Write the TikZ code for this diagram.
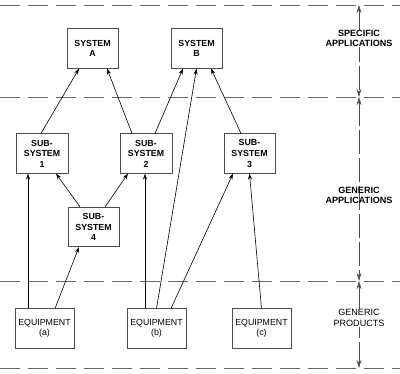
\documentclass[tikz,border=0pt]{standalone}
\usepackage{fontspec}
\setmainfont{Liberation Sans}
\usepackage{tikz}
\usetikzlibrary{positioning,arrows.meta,calc}

\begin{document}
\begin{tikzpicture}[
    x=0.75pt, y=-0.75pt,
    block/.style={draw=black!70, line width=0.6pt, align=center, inner sep=0pt,
      minimum width=#1*0.75pt, minimum height=29.5pt,
      font=\fontsize{6.6}{7.9}\selectfont\bfseries},
    block/.default=51,
    equip/.style={block=59, font=\fontsize{6.6}{7.9}\selectfont},
    conn/.style={line width=0.45pt, -{Stealth[length=4.5pt,width=3pt]}},
    level/.style={draw=black!60, line width=0.6pt, dash pattern=on 15pt off 6pt},
    span/.style={line width=0.5pt, draw=black!70, dash pattern=on 18pt off 3pt,
      {Stealth[length=6pt,width=3.6pt]}-{Stealth[length=6pt,width=3.6pt]}},
    tag/.style={align=center, inner sep=0pt, font=\fontsize{6.8}{8}\selectfont},
  ]
  \useasboundingbox (0,0) rectangle (400,374);

  % Level boundaries
  \draw[level] (0,5) -- (400,5);
  \draw[level] (0,97) -- (400,97);
  \draw[level] (0,281) -- (400,281);
  \draw[level] (0,368) -- (400,368);

  % Systems
  \node[block] (sysA) at (92.5,48.5)  {SYSTEM\\A};
  \node[block] (sysB) at (196.5,48.5) {SYSTEM\\B};

  % Sub-systems
  \node[block=52] (sub1) at (42,153.5)    {SUB-\\SYSTEM\\1};
  \node[block=52] (sub2) at (146,153.5)   {SUB-\\SYSTEM\\2};
  \node[block]    (sub3) at (249.5,153.5) {SUB-\\SYSTEM\\3};
  \node[block]    (sub4) at (93.5,227)    {SUB-\\SYSTEM\\4};

  % Equipment
  \node[equip] (eqa) at (44.5,328.5)  {EQUIPMENT\\(a)};
  \node[equip] (eqb) at (156.5,328.5) {EQUIPMENT\\(b)};
  \node[equip] (eqc) at (261.5,328.5) {EQUIPMENT\\(c)};

  % Equipment to sub-systems and systems
  \draw[conn] ($(eqa.north)+(-16.5,0)$) -- ($(sub1.south)+(-14,0)$);
  \draw[conn] ($(eqa.north)+(10.5,0)$)  -- ($(sub4.south)+(-14.5,0)$);
  \draw[conn] ($(eqb.north)+(-11.5,0)$) -- ($(sub2.south)+(-1,0)$);
  \draw[conn] (eqb.north) -- (sysB.south);
  \draw[conn] ($(eqb.north)+(14.5,0)$)  -- ($(sub3.south)+(-16.5,0)$);
  \draw[conn] (eqc.north) -- (sub3.south);

  % Sub-system 4 upwards
  \draw[conn] ($(sub4.north)+(-13.5,0)$) -- ($(sub1.south)+(14,0)$);
  \draw[conn] ($(sub4.north)+(11.5,0)$)  -- ($(sub2.south)+(-18,0)$);

  % Sub-systems to systems
  \draw[conn] ($(sub1.north)+(-1,0)$)   -- ($(sysA.south)+(-13.5,0)$);
  \draw[conn] ($(sub2.north)+(-14,0)$)  -- ($(sysA.south)+(14.5,0)$);
  \draw[conn] ($(sub2.north)+(9,0)$)    -- ($(sysB.south)+(-13.5,0)$);
  \draw[conn] ($(sub3.north)+(-8.5,0)$) -- ($(sysB.south)+(14.5,0)$);

  % Level spans
  \coordinate (l0) at (359,5);
  \coordinate (l1) at (359,97);
  \coordinate (l2) at (359,281);
  \coordinate (l3) at (359,368);
  \draw[span] (l0) -- (l1);
  \draw[span] (l1) -- (l2);
  \draw[span] (l2) -- (l3);
  \node[tag, fill=white, font=\fontsize{6.8}{8}\selectfont\bfseries] (specific) at (359,38.5) {SPECIFIC\\APPLICATIONS};
  \node[tag, font=\fontsize{6.8}{8}\selectfont\bfseries] (genapp) at (359,195.5) {GENERIC\\APPLICATIONS};
  \node[tag, fill=white] (genprod) at (359,318) {GENERIC\\PRODUCTS};
\end{tikzpicture}
\end{document}
